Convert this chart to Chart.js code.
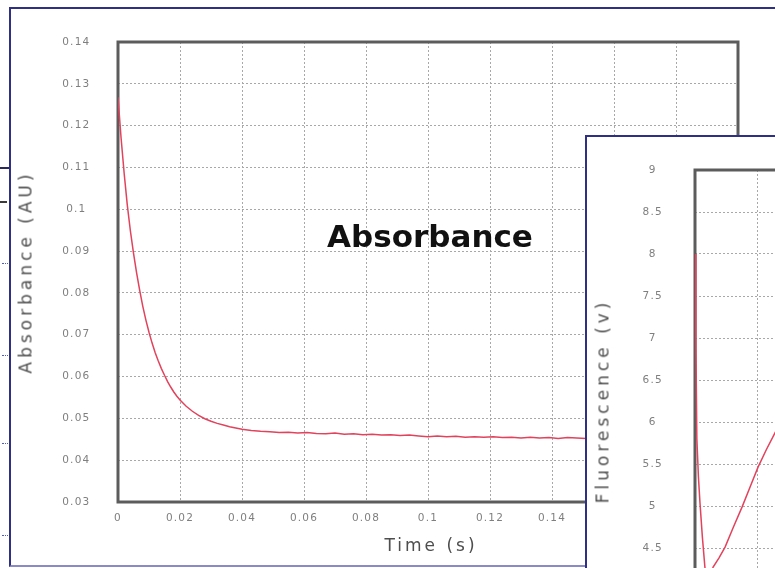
<!DOCTYPE html>
<html>
<head>
<meta charset="utf-8">
<title>Absorbance</title>
<script src="https://cdn.jsdelivr.net/npm/chart.js@4.4.1/dist/chart.umd.min.js"></script>
<style>
  html, body { margin: 0; padding: 0; width: 775px; height: 568px; overflow: hidden; background: #fff; }
  #stage { position: relative; width: 775px; height: 568px; overflow: hidden; font-family: "DejaVu Sans", Verdana, sans-serif; }
  .win { position: absolute; background: #fff; box-sizing: border-box; }
  #mainWin { left: 9px; top: 7px; width: 800px; height: 560px; border-left: 2px solid #2f2f86; border-top: 2px solid #2f2f86; border-bottom: 2px solid #8a8ac4; }
  #insetWin { left: 585px; top: 135px; width: 400px; height: 600px; border-left: 2px solid #2f2f86; border-top: 2px solid #2f2f86; overflow: hidden; }
  #mainChart { position: absolute; left: 0; top: 0; }
  #insetChart { position: absolute; left: 0; top: -10px; }
  .ttl { position: absolute; white-space: nowrap; color: #4e4e4e; }
  .vt { transform: translate(-50%, -50%) rotate(-90deg); font-size: 17px; letter-spacing: 4px; line-height: 17px; }
  #headline { left: 430px; top: 221px; transform: translateX(-50%); font-size: 31px; line-height: 31px; font-weight: bold; color: #111; }
  #xTitle { left: 431px; top: 537px; transform: translateX(-50%); font-size: 17px; line-height: 17px; letter-spacing: 3px; }
  .bits { position: absolute; }
</style>
</head>
<body>
<div id="stage">
  <!-- bits of the window behind -->
  <div class="bits" style="left:0;top:167px;width:10px;height:2px;background:#2a2a5e"></div>
  <div class="bits" style="left:0;top:201px;width:7px;height:2px;background:#3a3a3a"></div>
  <div class="bits" style="left:2px;top:263px;width:6px;border-top:1px dotted #4d5bd0"></div>
  <div class="bits" style="left:2px;top:355px;width:6px;border-top:1px dotted #4d5bd0"></div>
  <div class="bits" style="left:2px;top:443px;width:6px;border-top:1px dotted #4d5bd0"></div>
  <div class="bits" style="left:2px;top:535px;width:6px;border-top:1px dotted #4d5bd0"></div>

  <div id="mainWin" class="win"></div>
  <canvas id="mainChart" width="775" height="568"></canvas>
  <div id="headline" class="ttl">Absorbance</div>
  <div class="ttl vt" style="left:26px;top:272px">Absorbance (AU)</div>
  <div id="xTitle" class="ttl">Time (s)</div>

  <div id="insetWin" class="win">
    <canvas id="insetChart" width="760" height="660"></canvas>
    <div class="ttl vt" style="left:16px;top:264px">Fluorescence (v)</div>
  </div>
</div>

<script>
// absorbance trace
const timeS = [0, 0.001, 0.002, 0.003, 0.004, 0.005, 0.006, 0.007, 0.008, 0.009,
  0.010, 0.011, 0.012, 0.013, 0.014, 0.015, 0.016, 0.017, 0.018, 0.019,
  0.020, 0.022, 0.024, 0.026, 0.028, 0.030, 0.032, 0.034, 0.036, 0.038,
  0.040, 0.043, 0.046, 0.049, 0.052, 0.055, 0.058, 0.061, 0.064, 0.067,
  0.070, 0.073, 0.076, 0.079, 0.082, 0.085, 0.088, 0.091, 0.094, 0.097,
  0.100, 0.103, 0.106, 0.109, 0.112, 0.115, 0.118, 0.121, 0.124, 0.127,
  0.130, 0.133, 0.136, 0.139, 0.142, 0.145, 0.148, 0.151, 0.154, 0.157,
  0.160, 0.170, 0.180, 0.190, 0.200];
const absorbance = [0.1268, 0.1170, 0.1085, 0.1010, 0.0948, 0.0895, 0.0848, 0.0806, 0.0768, 0.0735,
  0.0706, 0.0680, 0.0657, 0.0637, 0.0619, 0.0603, 0.0588, 0.0575, 0.0563, 0.0553,
  0.0544, 0.0529, 0.0517, 0.0507, 0.0499, 0.0493, 0.0488, 0.0484, 0.0480, 0.0477,
  0.0474, 0.0471, 0.0469, 0.0468, 0.0466, 0.0467, 0.0465, 0.0466, 0.0464, 0.0463,
  0.0465, 0.0462, 0.0463, 0.0461, 0.0462, 0.0460, 0.0461, 0.0459, 0.0460, 0.0458,
  0.0456, 0.0458, 0.0456, 0.0457, 0.0455, 0.0456, 0.0455, 0.0456, 0.0454, 0.0455,
  0.0453, 0.0455, 0.0453, 0.0454, 0.0452, 0.0454, 0.0453, 0.0452, 0.0453, 0.0452,
  0.0452, 0.0453, 0.0452, 0.0452, 0.0451];

// fluorescence trace
const fluoTimeS = [0, 0.0003, 0.0006, 0.0011, 0.0016, 0.0024, 0.0032, 0.0039, 0.0045, 0.0051,
  0.0058, 0.0077, 0.0097, 0.0124, 0.0152, 0.0178, 0.0203, 0.0230, 0.0258, 0.0290];
const fluorescence = [8.0, 6.9, 5.8, 5.35, 5.04, 4.62, 4.27, 4.05, 3.96, 4.05,
  4.27, 4.38, 4.51, 4.75, 4.99, 5.23, 5.46, 5.67, 5.87, 6.08];

const xTickLabels = ['0', '0.02', '0.04', '0.06', '0.08', '0.1', '0.12', '0.14', '0.16', '0.18', '0.2'];
const absTickLabels = ['0.03', '0.04', '0.05', '0.06', '0.07', '0.08', '0.09', '0.1', '0.11', '0.12', '0.13', '0.14'];
const fluoTickLabels = ['3.5', '4', '4.5', '5', '5.5', '6', '6.5', '7', '7.5', '8', '8.5', '9'];

const TRACE = '#e2435c';
const GRID = '#a8a8a8';
const TICK = '#7f7f7f';

Chart.defaults.font.family = '"DejaVu Sans", Verdana, sans-serif';

function pick(labels, v) {
  return labels.find(l => Math.abs(parseFloat(l) - v) < 1e-9) || '';
}

// thick grey box round the plot area
const plotFrame = {
  id: 'plotFrame',
  beforeDatasetsDraw(chart) {
    const { ctx, chartArea: a } = chart;
    ctx.save();
    ctx.strokeStyle = '#5c5c5c';
    ctx.lineWidth = 3;
    ctx.strokeRect(a.left, a.top, a.right - a.left, a.bottom - a.top);
    ctx.restore();
  }
};

// the tick numbers are drawn a little spread out
const tickSpacing = {
  id: 'tickSpacing',
  beforeDraw(chart) { chart.ctx.letterSpacing = '1.2px'; }
};

function buildPlot(canvas, cfg) {
  return new Chart(canvas, {
    type: 'line',
    data: {
      datasets: [{
        data: cfg.xs.map((x, i) => ({ x: x, y: cfg.ys[i] })),
        borderColor: TRACE,
        borderWidth: 1.5,
        pointRadius: 0,
        tension: 0
      }]
    },
    options: {
      responsive: false,
      animation: false,
      events: [],
      layout: { padding: cfg.padding },
      plugins: { legend: { display: false }, tooltip: { enabled: false } },
      scales: {
        x: {
          type: 'linear', min: 0, max: 0.2,
          afterFit: s => { s.height = cfg.xAxisHeight; },
          ticks: {
            stepSize: 0.02, padding: 10, color: TICK, font: { size: 10.5 },
            maxRotation: 0, autoSkip: false,
            callback: v => pick(xTickLabels, v)
          },
          grid: { color: GRID, drawTicks: false },
          border: { display: false, dash: [2, 2] }
        },
        y: {
          type: 'linear', min: cfg.yMin, max: cfg.yMax,
          afterFit: s => { s.width = cfg.yAxisWidth; },
          ticks: {
            stepSize: cfg.yStep, padding: cfg.labelPad, crossAlign: 'center',
            color: TICK, font: { size: 10.5 }, autoSkip: false,
            callback: v => pick(cfg.yLabels, v)
          },
          grid: { color: GRID, drawTicks: false },
          border: { display: false, dash: [2, 2] }
        }
      }
    },
    plugins: [plotFrame, tickSpacing]
  });
}

buildPlot(document.getElementById('mainChart'), {
  xs: timeS, ys: absorbance,
  yMin: 0.03, yMax: 0.14, yStep: 0.01, yLabels: absTickLabels,
  padding: { top: 42, right: 37, left: 0, bottom: 0 },
  yAxisWidth: 118, xAxisHeight: 66, labelPad: 30
});

buildPlot(document.getElementById('insetChart'), {
  xs: fluoTimeS, ys: fluorescence,
  yMin: 3.5, yMax: 9, yStep: 0.5, yLabels: fluoTickLabels,
  padding: { top: 43, right: 32, left: 0, bottom: 0 },
  yAxisWidth: 108, xAxisHeight: 155, labelPad: 34
});
</script>
</body>
</html>
